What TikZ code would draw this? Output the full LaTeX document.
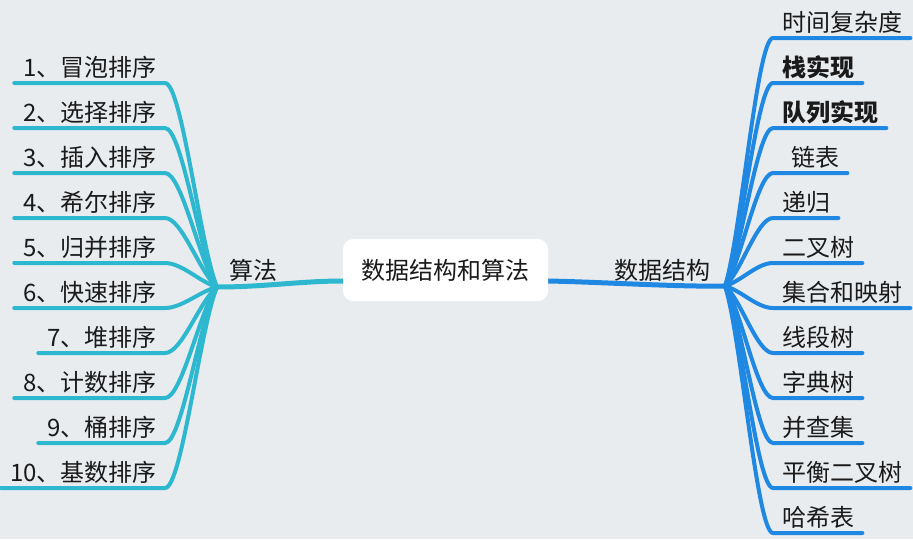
\documentclass[tikz,border=0pt]{standalone}
\usepackage{fontspec}
\setmainfont{Noto Sans CJK SC}
\usetikzlibrary{backgrounds}
\definecolor{bgc}{HTML}{E9ECEF}
\definecolor{cyl}{HTML}{2DB8CF}
\definecolor{bll}{HTML}{1E88E2}
\definecolor{txt}{HTML}{1A1A1A}
\begin{document}
\begin{tikzpicture}[x=1pt,y=-1pt,
  lab/.style={inner sep=0pt,text=txt,font=\fontsize{24}{28}\selectfont},
  cline/.style={draw=cyl,line width=4pt,line cap=round},
  bline/.style={draw=bll,line width=4pt,line cap=round},
  mainbox/.style={fill=white,rounded corners=10pt,minimum width=205pt,minimum height=62pt,inner sep=0pt,text=txt,font=\fontsize{24}{28}\selectfont}]
\useasboundingbox (0,0) rectangle (913,539);
\node[mainbox] (center) at (445.5,270) {数据结构和算法};
\coordinate (hubL) at (217,287);
\coordinate (hubR) at (725,286);
\node[lab,anchor=base] (alg) at (253,279) {算法};
\node[lab,anchor=base] (ds) at (662,279) {数据结构};
% left items
\foreach \i/\y/\t in {1/83/1、冒泡排序,2/128/2、选择排序,3/173/3、插入排序,4/218/4、希尔排序,5/263/5、归并排序,6/308/6、快速排序,7/353/7、堆排序,8/398/8、计数排序,9/443/9、桶排序,10/488/10、基数排序}{
  \node[lab,anchor=base east] (L\i) at (157,\y-7) {\t};
}
% right items
\foreach \i/\y/\t in {1/38/时间复杂度,2/83/{\bfseries 栈实现},3/128/{\bfseries 队列实现},5/218/递归,6/263/二叉树,7/308/集合和映射,8/353/线段树,9/398/字典树,10/443/并查集,11/488/平衡二叉树,12/533/哈希表}{
  \node[lab,anchor=base west] (R\i) at (782,\y-7) {\t};
}
\node[lab,anchor=base west] (R4) at (791,166) {链表};
\begin{scope}[on background layer]
  \fill[bgc] (0,0) rectangle (913,539);
  \foreach \i/\y in {1/83,2/128,3/173,4/218,5/263,6/308,7/353,8/398,9/443,10/488}{
    \pgfmathsetmacro{\cy}{287+(\y-287)*0.2}
    \path[cline] ([shift={(-9,7)}]L\i.base west) -- (165,\y) .. controls (182,\y) and (200,\cy) .. (hubL);
  }
  \foreach \i/\y in {1/38,2/83,3/128,4/173,5/218,6/263,7/308,8/353,9/398,10/443,11/488,12/533}{
    \pgfmathsetmacro{\cy}{286+(\y-286)*0.2}
    \path[bline] ([shift={(8,7)}]R\i.base east) -- (773,\y) .. controls (757,\y) and (741,\cy) .. (hubR);
  }
  \path[cline,line width=5pt] (hubL) .. controls (265,287) and (300,281) .. ([yshift=-11pt]center.west);
  \path[bline,line width=5pt] (hubR) .. controls (680,287) and (600,282) .. ([yshift=-11pt]center.east);
\end{scope}
\end{tikzpicture}
\end{document}
